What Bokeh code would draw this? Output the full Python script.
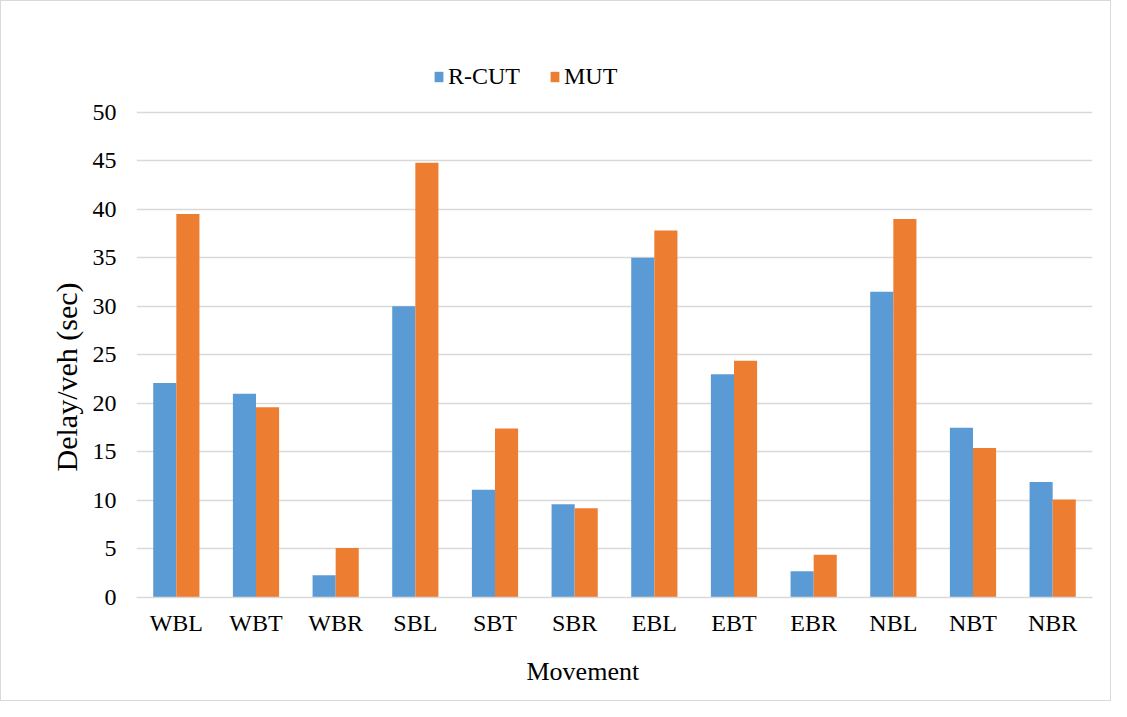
from bokeh.plotting import figure
from bokeh.models import ColumnDataSource, Legend, LegendItem, FactorRange, Title
from bokeh.transform import dodge
from bokeh.embed import file_html
from bokeh.resources import INLINE

movements = ["WBL", "WBT", "WBR", "SBL", "SBT", "SBR", "EBL", "EBT", "EBR", "NBL", "NBT", "NBR"]
rcut = [22.1, 21.0, 2.3, 30.0, 11.1, 9.6, 35.0, 23.0, 2.7, 31.5, 17.5, 11.9]
mut = [39.5, 19.6, 5.1, 44.8, 17.4, 9.2, 37.8, 24.4, 4.4, 39.0, 15.4, 10.1]
y_ticks = [0, 5, 10, 15, 20, 25, 30, 35, 40, 45, 50]

BLUE = "#5B9BD5"
ORANGE = "#ED7D31"
GRID = "#d9d9d9"
FONT = "Liberation Serif"

src = ColumnDataSource(dict(m=movements, rcut=rcut, mut=mut))

# frame extends above 50 (no grid there) so the legend can sit inside it
p = figure(x_range=FactorRange(*movements, range_padding=0), y_range=(0, 58),
           width=1111, height=701, output_backend="svg", toolbar_location=None,
           min_border_left=135, min_border_right=20, min_border_top=33, min_border_bottom=105,
           outline_line_color=None, background_fill_color="white", border_fill_color="white",
           styles={"border": "1px solid #d9d9d9", "box-sizing": "border-box"})

r1 = p.vbar(x=dodge("m", -0.145, range=p.x_range), top="rcut", width=0.29, source=src,
            fill_color=BLUE, line_color=None)
r2 = p.vbar(x=dodge("m", 0.145, range=p.x_range), top="mut", width=0.29, source=src,
            fill_color=ORANGE, line_color=None)

p.xgrid.grid_line_color = None
p.ygrid.grid_line_color = GRID
p.ygrid.grid_line_width = 1.5
p.yaxis.ticker = y_ticks

for ax in (p.xaxis[0], p.yaxis[0]):
    ax.major_tick_line_color = None
    ax.minor_tick_line_color = None
    ax.major_tick_out = 0
    ax.major_tick_in = 0
    ax.major_label_text_font = FONT
    ax.major_label_text_font_size = "24px"
    ax.major_label_text_color = "black"

p.yaxis.axis_line_color = None
p.yaxis.major_label_standoff = 20

p.xaxis.axis_line_color = GRID
p.xaxis.axis_line_width = 1.5
p.xaxis.major_label_standoff = 12

ytitle = Title(text="Delay/veh (sec)", align="left", offset=126, vertical_align="bottom",
               standoff=13, text_font=FONT, text_font_size="30px", text_font_style="normal",
               text_color="black")
p.add_layout(ytitle, "left")

xtitle = Title(text="Movement", align="left", offset=390, vertical_align="bottom",
               standoff=33, text_font=FONT, text_font_size="26px", text_font_style="normal",
               text_color="black")
p.add_layout(xtitle, "below")

legend = Legend(items=[LegendItem(label="R-CUT", renderers=[r1]),
                       LegendItem(label="MUT", renderers=[r2])],
                orientation="horizontal", location=(297, 507),
                glyph_width=11, glyph_height=13, label_standoff=4, spacing=29,
                padding=0, margin=0, border_line_color=None, background_fill_alpha=0,
                label_text_font=FONT, label_text_font_size="24px", label_text_color="black")
p.add_layout(legend, "center")

open("out.html", "w").write(file_html(p, INLINE))
